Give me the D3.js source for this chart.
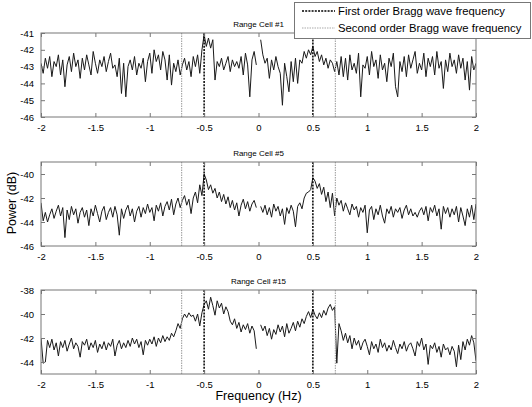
<!DOCTYPE html>
<html>
<head>
<meta charset="UTF-8">
<title>Range cell spectra</title>
<script src="https://d3js.org/d3.v7.min.js"></script>
<style>
  body { margin: 0; background: #fff; }
  svg { font-family: Arial, "Liberation Sans", sans-serif; display: block; }
  .tick text { font-size: 9.5px; fill: #000; }
</style>
</head>
<body>
<svg id="chart" width="532" height="407"></svg>
<script>
// frequency grid: -2 Hz to 2 Hz, one value every 0.02 Hz (null = gap at DC)
const freqStart = -2, freqStep = 0.02;

const cell1 = [
  -42.8,-43.4,-42.5,-43.1,-42.4,-43.6,-42.7,-43.0,-42.3,-43.5,
  -42.6,-44.2,-42.9,-42.4,-43.3,-42.2,-43.0,-42.6,-43.7,-42.5,
  -43.2,-42.3,-42.9,-43.5,-42.1,-42.8,-43.4,-42.6,-43.0,-42.4,
  -43.3,-42.7,-42.2,-43.1,-42.9,-43.6,-42.5,-44.6,-42.8,-44.8,
  -43.0,-42.6,-43.2,-42.4,-43.5,-42.8,-43.1,-42.5,-43.9,-42.7,
  -42.2,-43.4,-42.0,-42.7,-42.3,-43.2,-42.1,-42.6,-43.8,-42.3,
  -44.1,-42.8,-43.3,-42.6,-43.5,-42.9,-42.5,-43.2,-42.7,-43.6,
  -42.4,-43.0,-42.3,-43.4,-42.0,-41.1,-41.8,-41.3,-41.9,-41.4,
  -43.8,-42.7,-43.0,-42.5,-43.2,-42.8,-42.4,-43.3,-42.6,-43.0,
  -42.7,-43.1,-42.4,-43.5,-42.2,-42.9,-44.8,-42.6,-42.1,-42.9,
  null,-41.4,-42.3,-42.8,-42.5,-43.7,-42.6,-43.2,-42.4,-43.0,
  -43.4,-45.3,-42.8,-43.6,-44.5,-42.7,-43.9,-42.5,-44.0,-42.6,
  -42.8,-42.1,-42.5,-42.0,-42.3,-41.8,-42.4,-42.1,-42.7,-42.3,
  -42.9,-42.5,-43.1,-42.6,-42.8,-43.3,-42.7,-43.5,-42.4,-43.6,
  -42.5,-43.8,-42.3,-43.2,-42.8,-43.4,-42.2,-44.8,-42.9,-43.1,
  -42.4,-43.5,-42.1,-43.0,-42.6,-43.7,-42.3,-43.2,-42.8,-43.9,
  -42.5,-43.0,-42.2,-44.2,-44.8,-42.7,-43.3,-42.4,-43.6,-42.3,
  -43.1,-42.6,-42.1,-43.4,-42.8,-43.2,-42.2,-43.6,-42.5,-43.0,
  -42.4,-43.5,-42.1,-43.1,-42.7,-44.3,-42.6,-43.3,-42.2,-43.0,
  -42.6,-43.4,-42.3,-43.1,-42.5,-43.8,-42.7,-44.4,-42.4,-43.2,
  -42.8
];

const cell5 = [
  -42.4,-43.9,-43.2,-44.0,-43.4,-42.9,-43.7,-43.1,-42.6,-43.5,
  -42.8,-45.3,-43.0,-43.8,-42.7,-43.4,-42.9,-44.1,-43.2,-42.8,
  -43.6,-43.0,-44.3,-42.9,-43.5,-42.6,-43.3,-44.0,-43.1,-42.7,
  -43.8,-43.2,-42.8,-43.6,-42.7,-43.4,-45.1,-42.9,-43.7,-43.0,
  -42.6,-43.5,-42.9,-44.0,-43.1,-42.7,-43.6,-42.8,-43.3,-42.5,
  -43.2,-42.8,-43.9,-42.6,-43.1,-42.4,-43.5,-42.7,-42.3,-43.0,
  -42.1,-43.4,-42.5,-42.0,-42.8,-42.2,-41.8,-42.6,-42.1,-43.3,
  -42.0,-41.5,-42.4,-40.9,-41.8,-40.0,-40.5,-41.3,-40.9,-41.6,
  -41.2,-42.0,-41.5,-42.3,-41.7,-42.5,-41.9,-42.8,-42.2,-43.0,
  -42.4,-43.5,-42.6,-42.1,-42.9,-42.3,-43.1,-42.5,-42.2,-42.8,
  null,-42.7,-43.2,-42.6,-43.4,-42.8,-43.6,-42.5,-43.1,-42.7,
  -43.5,-42.9,-44.2,-42.8,-43.3,-42.6,-43.1,-44.4,-42.7,-42.4,
  -42.9,-42.0,-41.6,-41.5,-41.3,-40.3,-40.6,-41.2,-40.8,-41.7,
  -41.1,-42.3,-41.5,-42.8,-41.6,-43.5,-42.0,-42.6,-42.2,-43.1,
  -42.4,-42.9,-43.4,-42.5,-43.0,-42.7,-43.6,-42.8,-43.2,-42.6,
  -44.9,-43.0,-42.7,-43.8,-42.9,-43.4,-42.6,-43.5,-44.1,-42.9,
  -43.3,-42.7,-43.6,-42.9,-43.2,-42.8,-43.7,-43.0,-42.6,-43.4,
  -42.9,-43.5,-43.2,-43.6,-43.1,-42.8,-43.4,-42.7,-43.9,-42.8,
  -43.2,-42.6,-43.5,-42.9,-44.6,-42.7,-43.3,-42.8,-43.6,-42.9,
  -43.4,-42.7,-44.0,-42.8,-43.5,-44.3,-42.9,-43.6,-42.6,-43.8,
  -42.5
];

const cell15 = [
  -42.0,-44.1,-44.0,-42.2,-42.8,-42.1,-43.0,-42.4,-43.5,-42.3,
  -42.8,-42.2,-43.1,-42.5,-42.0,-42.9,-42.4,-42.7,-43.6,-42.3,
  -42.6,-42.1,-43.0,-42.4,-42.8,-42.2,-43.2,-42.5,-42.9,-42.3,
  -43.0,-42.4,-42.7,-42.1,-43.5,-42.6,-42.2,-42.9,-42.4,-42.8,
  -42.2,-42.7,-42.0,-42.5,-42.1,-42.8,-42.3,-43.4,-42.2,-42.6,
  -42.1,-42.5,-41.9,-42.7,-42.0,-42.4,-41.8,-42.3,-41.9,-42.2,
  -41.6,-41.9,-41.4,-40.8,-41.2,-40.4,-40.0,-40.3,-39.9,-40.2,
  -40.1,-40.6,-40.0,-41.0,-39.9,-39.2,-38.9,-39.6,-38.6,-39.3,
  -40.1,-38.9,-39.5,-39.1,-40.0,-39.4,-39.8,-40.6,-40.9,-40.4,
  -41.2,-40.7,-41.5,-40.9,-41.3,-40.8,-41.6,-41.0,-41.4,-42.9,
  null,-40.9,-41.4,-41.0,-41.8,-41.2,-42.1,-41.3,-41.7,-40.9,
  -41.5,-41.0,-41.9,-40.8,-41.6,-41.2,-40.7,-41.4,-40.6,-41.1,
  -40.4,-40.8,-40.2,-39.8,-40.3,-39.6,-40.1,-40.4,-39.9,-40.3,
  -39.7,-40.1,-39.5,-39.2,-39.7,-39.4,-44.1,-40.8,-41.4,-42.2,
  -41.6,-42.4,-41.8,-42.9,-42.0,-42.6,-42.2,-43.0,-42.4,-42.1,
  -42.7,-43.4,-42.3,-42.9,-42.5,-43.2,-42.1,-42.8,-42.4,-43.1,
  -42.6,-43.0,-42.2,-42.8,-43.3,-42.5,-42.9,-42.3,-43.1,-42.6,
  -42.4,-42.9,-43.5,-42.3,-42.7,-42.0,-43.0,-42.5,-44.2,-42.6,
  -42.9,-42.4,-43.2,-42.7,-43.6,-42.5,-43.0,-42.8,-43.4,-42.7,
  -43.1,-44.4,-42.6,-43.8,-42.3,-43.0,-42.1,-42.6,-41.8,-42.4,
  -43.9
];

const panelTitles = ["Range Cell #1", "Range Cell #5", "Range Cell #15"];
const panelSeries = [cell1, cell5, cell15];
const panelYDomains = [[-46, -41], [-46, -39], [-45, -38]];
const panelYTicks = [[-46, -45, -44, -43, -42, -41], [-46, -44, -42, -40], [-44, -42, -40, -38]];
const xTicks = [-2, -1.5, -1, -0.5, 0, 0.5, 1, 1.5, 2];
const firstOrderBragg = [-0.5, 0.5];
const secondOrderBragg = [-0.707, 0.707];

const svg = d3.select("#chart");
const left = 41, right = 476;
const panelTops = [33, 162, 290];
const panelH = 84;
const plain = d => String(d); // hyphen minus, no trailing zeros

const x = d3.scaleLinear().domain([-2, 2]).range([left, right]);

panelSeries.forEach((vals, p) => {
  const top = panelTops[p];
  const y = d3.scaleLinear().domain(panelYDomains[p]).range([top + panelH, top]);
  const g = svg.append("g");

  g.append("clipPath").attr("id", "clip" + p)
    .append("rect").attr("x", left).attr("y", top).attr("width", right - left).attr("height", panelH);

  // spectrum
  const pts = vals.map((v, i) => ({ f: freqStart + i * freqStep, v }));
  const line = d3.line()
    .defined(d => d.v !== null)
    .x(d => x(d.f))
    .y(d => y(d.v));
  g.append("path")
    .datum(pts)
    .attr("clip-path", `url(#clip${p})`)
    .attr("fill", "none")
    .attr("stroke", "#1a1a1a")
    .attr("stroke-width", 1)
    .attr("stroke-linejoin", "round")
    .attr("d", line);

  // Bragg frequency markers
  g.selectAll(".second").data(secondOrderBragg).enter().append("line")
    .attr("x1", d => x(d)).attr("x2", d => x(d))
    .attr("y1", top).attr("y2", top + panelH)
    .attr("stroke", "#aaa").attr("stroke-width", 1.2)
    .attr("stroke-dasharray", "1.5,1");
  g.selectAll(".first").data(firstOrderBragg).enter().append("line")
    .attr("x1", d => x(d)).attr("x2", d => x(d))
    .attr("y1", top).attr("y2", top + panelH)
    .attr("stroke", "#000").attr("stroke-width", 1.5)
    .attr("stroke-dasharray", "2,1.2");

  // axes, MATLAB style inward ticks on all four sides
  const tk = 4;
  g.append("g").attr("transform", `translate(0,${top + panelH})`)
    .call(d3.axisBottom(x).tickValues(xTicks).tickSizeInner(-tk).tickSizeOuter(0).tickPadding(tk + 3).tickFormat(plain))
    .call(a => a.select(".domain").remove());
  g.append("g").attr("transform", `translate(0,${top})`)
    .call(d3.axisTop(x).tickValues(xTicks).tickSizeInner(-tk).tickSizeOuter(0).tickFormat(""))
    .call(a => a.select(".domain").remove());
  g.append("g").attr("transform", `translate(${left},0)`)
    .call(d3.axisLeft(y).tickValues(panelYTicks[p]).tickSizeInner(-tk).tickSizeOuter(0).tickPadding(tk + 3).tickFormat(plain))
    .call(a => a.select(".domain").remove());
  g.append("g").attr("transform", `translate(${right},0)`)
    .call(d3.axisRight(y).tickValues(panelYTicks[p]).tickSizeInner(-tk).tickSizeOuter(0).tickFormat(""))
    .call(a => a.select(".domain").remove());
  g.selectAll(".tick line").attr("stroke", "#777");

  g.append("rect")
    .attr("x", left).attr("y", top).attr("width", right - left).attr("height", panelH)
    .attr("fill", "none").attr("stroke", "#777").attr("stroke-width", 1);

  g.append("text")
    .attr("x", (left + right) / 2).attr("y", top - 6)
    .attr("text-anchor", "middle")
    .style("font-size", "8px")
    .text(panelTitles[p]);
});

// axis titles
svg.append("text")
  .attr("x", (left + right) / 2).attr("y", 400)
  .attr("text-anchor", "middle")
  .style("font-size", "12.5px")
  .text("Frequency (Hz)");
svg.append("text")
  .attr("transform", "translate(16,203) rotate(-90)")
  .attr("text-anchor", "middle")
  .style("font-size", "12.5px")
  .text("Power (dB)");

// legend
const lg = svg.append("g");
lg.append("rect")
  .attr("x", 294.5).attr("y", 2.5).attr("width", 236).attr("height", 36)
  .attr("fill", "#fff").attr("stroke", "#777");
const legendItems = [
  { label: "First order Bragg wave frequency", color: "#000", dash: "2,1.2", w: 1.5 },
  { label: "Second order Bragg wave frequency", color: "#aaa", dash: "1.5,1", w: 1.2 }
];
legendItems.forEach((d, i) => {
  const ly = 11 + i * 17;
  lg.append("line")
    .attr("x1", 302).attr("x2", 335).attr("y1", ly).attr("y2", ly)
    .attr("stroke", d.color).attr("stroke-width", d.w).attr("stroke-dasharray", d.dash);
  lg.append("text")
    .attr("x", 338).attr("y", ly + 4)
    .style("font-size", "11.3px")
    .text(d.label);
});
</script>
</body>
</html>
